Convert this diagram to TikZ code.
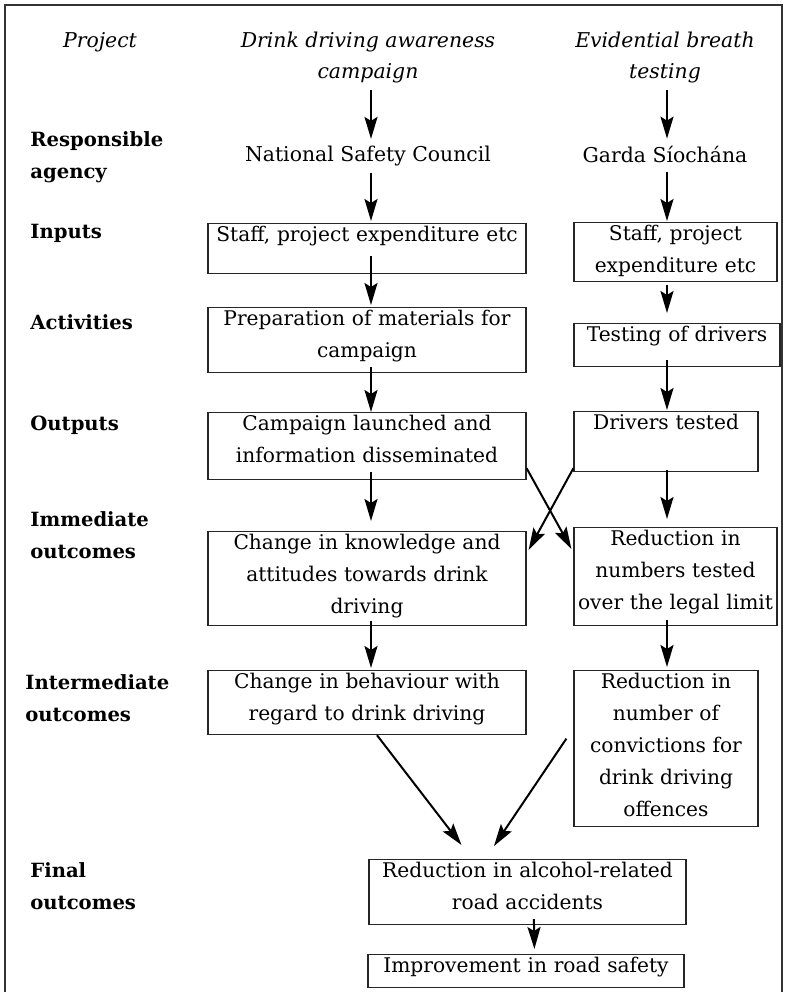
\documentclass[tikz,border=0pt]{standalone}
\usepackage{fontspec}
\setmainfont{DejaVu Serif}
\newfontfamily\labelfont{DejaVu Serif}
\usetikzlibrary{arrows.meta}

\begin{document}
\begin{tikzpicture}[
    x=0.5pt, y=-0.5pt,
    >={Stealth[length=11pt, width=6.5pt, inset=2pt]},
    head/.style={
        font=\labelfont\itshape\fontsize{10.2}{15.5}\selectfont, align=center
    },
    stagelabel/.style={
        anchor=west, align=left, inner xsep=0pt,
        font=\labelfont\bfseries\fontsize{9.8}{16}\selectfont
    },
    agency/.style={font=\fontsize{10.2}{16}\selectfont},
    stagebox/.style n args={2}{
        rectangle, draw=black!85, line width=0.6pt, anchor=north,
        align=center, inner xsep=1pt, inner ysep=0pt,
        text width=#1, text height=9pt, text depth=#2,
        font=\fontsize{10.1}{16}\selectfont
    },
    flow/.style={->, line width=1pt, draw=black},
]
\useasboundingbox (0,0) rectangle (785,992);

% ── Frame ────────────────────────────────────────────────────
\draw[line width=1pt, draw=black!80] (5,992) -- (5,5) -- (782,5) -- (782,992);

% ── Column heads ─────────────────────────────────────────────
\node[head] (proj) at (100,42)   {Project};
\node[head] (camp) at (368,57.5) {Drink driving awareness\\campaign};
\node[head] (ebt)  at (665,57.5) {Evidential breath\\testing};

% ── Stage labels ─────────────────────────────────────────────
\node[stagelabel] (lresp) at (30,157)  {Responsible\\agency};
\node[stagelabel] (linp)  at (30,233)  {Inputs};
\node[stagelabel] (lact)  at (30,322)  {Activities};
\node[stagelabel] (lout)  at (30,425)  {Outputs};
\node[stagelabel] (limm)  at (30,535)  {Immediate\\outcomes};
\node[stagelabel] (lint)  at (25,698.5) {Intermediate\\outcomes};
\node[stagelabel] (lfin)  at (30,886)  {Final\\outcomes};

% ── Agencies ─────────────────────────────────────────────────
\node[agency] (nsc) at (368,156) {National Safety Council};
\node[agency] (gsi) at (665,154) {Garda Síochána};

% ── Campaign column ──────────────────────────────────────────
\node[stagebox={157pt}{16pt}]   (inL)  at (367,223) {Staff, project expenditure etc};
\node[stagebox={157pt}{23.5pt}] (actL) at (367,307) {Preparation of materials for\\campaign};
\node[stagebox={157pt}{24.5pt}] (outL) at (367,412) {Campaign launched and\\information disseminated};
\node[stagebox={157pt}{38pt}]   (immL) at (367,531) {Change in knowledge and\\attitudes towards drink\\driving};
\node[stagebox={157pt}{23pt}]   (intL) at (367,670) {Change in behaviour with\\regard to drink driving};

% ── Breath testing column ────────────────────────────────────
\node[stagebox={99.5pt}{20.5pt}] (inR)  at (675.5,222) {Staff, project\\expenditure etc};
\node[stagebox={101pt}{12.5pt}]  (actR) at (677,323)   {Testing of drivers};
\node[stagebox={90pt}{21pt}]     (outR) at (666,411)   {Drivers tested};
\node[stagebox={99.5pt}{40pt}]   (immR) at (675.5,527) {Reduction in\\numbers tested\\over the legal limit};
\node[stagebox={90pt}{69pt}]     (intR) at (666,670)   {Reduction in\\number of\\convictions for\\drink driving\\offences};

% ── Final outcomes ───────────────────────────────────────────
\node[stagebox={156.5pt}{23.5pt}] (fin) at (527.5,859) {Reduction in alcohol-related\\road accidents};
\node[stagebox={156pt}{7.5pt}]    (imp) at (526,954)   {Improvement in road safety};

% ── Column arrows ────────────────────────────────────────────
\coordinate (lcol) at (371,0);
\coordinate (rcol) at (667,0);

\draw[flow] (camp.south -| lcol) -- (nsc.north -| lcol);
\draw[flow, shorten >=1pt] (nsc.south -| lcol) -- (inL.north -| lcol);
\draw[flow, shorten <=-9pt, shorten >=1pt] (inL.south -| lcol) -- (actL.north -| lcol);
\draw[flow, shorten <=-3pt] (actL.south -| lcol) -- (outL.north -| lcol);
\draw[flow, shorten <=-4pt, shorten >=5pt] (outL.south -| lcol) -- (immL.north -| lcol);
\draw[flow, shorten <=-2.5pt, shorten >=1pt] (immL.south -| lcol) -- (intL.north -| lcol);

\draw[flow] (ebt.south -| rcol) -- (gsi.north -| rcol);
\draw[flow, shorten <=1.5pt, shorten >=0.5pt] (gsi.south -| rcol) -- (inR.north -| rcol);
\draw[flow, shorten <=1.5pt, shorten >=5pt] (inR.south -| rcol) -- (actR.north -| rcol);
\draw[flow, shorten <=-3.5pt, shorten >=0.5pt] (actR.south -| rcol) -- (outR.north -| rcol);
\draw[flow, shorten <=-1pt, shorten >=4pt] (outR.south -| rcol) -- (immR.north -| rcol);
\draw[flow, shorten <=-3pt, shorten >=1.5pt] (immR.south -| rcol) -- (intR.north -| rcol);

% ── Cross links ──────────────────────────────────────────────
\draw[flow] ([yshift=6pt]outL.south east) -- ([xshift=-1pt, yshift=-11pt]immR.north west);
\draw[flow] ([yshift=2pt]outR.south west) -- ([xshift=1pt, yshift=-9.5pt]immL.north east);

% ── Into final outcomes ──────────────────────────────────────
\draw[flow] ([xshift=5pt]intL.south) -- ([xshift=-33pt, yshift=7pt]fin.north);
\draw[flow] ([xshift=-3.5pt, yshift=5pt]intR.west) -- ([xshift=-16.75pt, yshift=6.5pt]fin.north);
\draw[flow, shorten <=-3pt, shorten >=2.5pt] ([xshift=3.25pt]fin.south) -- ([xshift=4.25pt]imp.north);

\end{tikzpicture}
\end{document}
